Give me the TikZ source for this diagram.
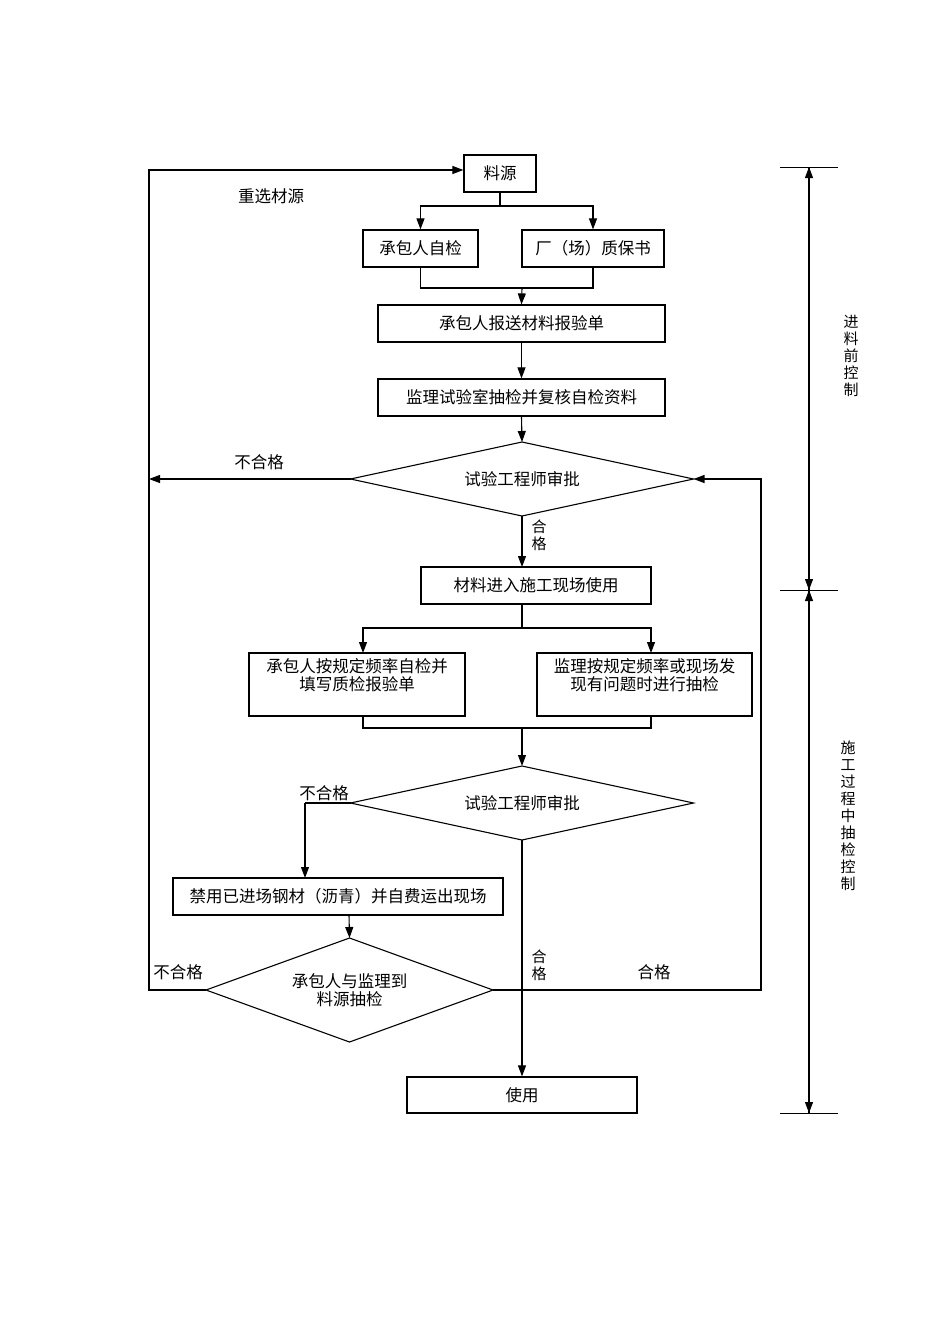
\documentclass[tikz,border=0pt]{standalone}
\usepackage{fontspec}
\setmainfont{Noto Sans CJK SC}
\usetikzlibrary{arrows.meta}
\begin{document}
\begin{tikzpicture}[x=1pt,y=-1pt,
  every node/.style={font=\fontsize{16.5}{18.5}\selectfont},
  box/.style={draw,line width=1.2pt,minimum height=37pt,inner sep=0pt,align=center},
  dia/.style={inner sep=0pt,outer sep=0pt,align=center},
  dline/.style={line width=1.1pt},
  ln/.style={line width=1.1pt},
  arr/.style={line width=1.1pt,-{Triangle[length=11pt,width=8pt]}},
  lbl/.style={inner sep=0pt},
  vlbl/.style={inner sep=0pt,align=center,font=\fontsize{15}{17}\selectfont}]
\useasboundingbox (0,0) rectangle (950,1344);
% boxes
\node[box,minimum width=72pt] (src) at (500,173.5) {料源};
\node[box,minimum width=115pt] (self) at (420.5,248.5) {承包人自检};
\node[box,minimum width=142pt] (cert) at (593,248.5) {厂（场）质保书};
\node[box,minimum width=287pt] (rep) at (521.5,323.5) {承包人报送材料报验单};
\node[box,minimum width=287pt] (lab) at (521.5,397.5) {监理试验室抽检并复核自检资料};
\node[dia,minimum width=343pt,minimum height=74pt] (d1) at (522,479) {试验工程师审批};
\draw[dline] (d1.north) -- (d1.east) -- (d1.south) -- (d1.west) -- cycle;
\node[box,minimum width=230pt] (enter) at (536,585.5) {材料进入施工现场使用};
\node[box,minimum width=216pt,minimum height=63pt,text depth=20pt] (b4a) at (357,684.5) {承包人按规定频率自检并\\填写质检报验单};
\node[box,minimum width=215pt,minimum height=63pt,text depth=20pt] (b4b) at (644.5,684.5) {监理按规定频率或现场发\\现有问题时进行抽检};
\node[dia,minimum width=343pt,minimum height=74pt] (d2) at (522,803) {试验工程师审批};
\draw[dline] (d2.north) -- (d2.east) -- (d2.south) -- (d2.west) -- cycle;
\node[box,minimum width=330pt] (ban) at (338,896.5) {禁用已进场钢材（沥青）并自费运出现场};
\node[dia,minimum width=287pt,minimum height=104pt] (d3) at (349.5,990) {承包人与监理到\\料源抽检};
\draw[dline] (d3.north) -- (d3.east) -- (d3.south) -- (d3.west) -- cycle;
\node[box,minimum width=230pt,minimum height=36pt] (use) at (522,1095) {使用};
% coordinates
\coordinate (lt) at (149,170);
\coordinate (lb) at (149,990);
\coordinate (rb) at (761,990);
\coordinate (rt) at (761,479);
\coordinate (s1) at (500,206);
\coordinate (j1) at (522,288);
\coordinate (j2) at (522,628);
\coordinate (j3) at (522,728);
\coordinate (k1) at (305,803);
% connectors top
\draw[ln] (src.south) -- (s1);
\draw[arr] (s1) -| (self.north);
\draw[arr] (s1) -| (cert.north);
\draw[ln] (self.south) |- (j1) -| (cert.south);
\draw[arr] (j1) -- (rep.north);
\draw[arr] (rep.south) -- (lab.north);
\draw[arr] (lab.south) -- (d1.north);
\draw[arr] (d1.west) -- (149,479);
\draw[arr] (d1.south) -- (522,567);
\draw[ln] (522,604) -- (j2);
\draw[arr] (j2) -| (363,653);
\draw[arr] (j2) -| (651,653);
\draw[ln] (363,716) |- (j3) -| (651,716);
\draw[arr] (j3) -- (d2.north);
\draw[ln] (d2.west) -- (k1);
\draw[arr] (k1) -- (305,878);
\draw[arr] (349,915) -- (d3.north);
\draw[arr] (d2.south) -- (use.north);
% loops
\draw[arr] (d3.west) -- (lb) -- (lt) -- (src.west |- lt);
\draw[arr] (d3.east) -- (rb) -- (rt) -- (d1.east);
% labels
\node[lbl] (t1) at (271,196) {重选材源};
\node[lbl] (t2) at (259,462) {不合格};
\node[vlbl] (t3) at (539,535) {合\\格};
\node[lbl] (t4) at (324,793) {不合格};
\node[lbl] (t5) at (178,972) {不合格};
\node[vlbl] (t6) at (539,965) {合\\格};
\node[lbl] (t7) at (654,972) {合格};
% dimension
\coordinate (m1) at (809,167);
\coordinate (m2) at (809,590);
\coordinate (m3) at (809,1113);
\draw[line width=0.9pt] (780,167) -- (838,167) (780,590) -- (838,590) (780,1113) -- (838,1113);
\draw[arr] (m2) -- (m1);
\draw[arr] (m1) -- (m2);
\draw[arr] (m2) -- (m3);
\draw[arr] (m3) -- (m2);
\node[vlbl] (p1) at (851,356) {进\\料\\前\\控\\制};
\node[vlbl] (p2) at (848,816) {施\\工\\过\\程\\中\\抽\\检\\控\\制};
\end{tikzpicture}
\end{document}
